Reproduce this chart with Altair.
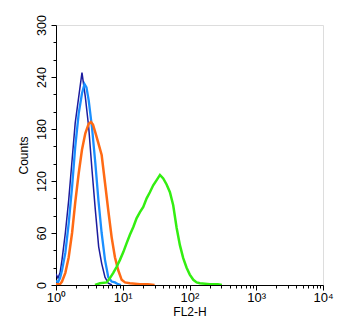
import altair as alt
import pandas as pd

# FL2-H channel values and counts for each histogram
navy_x = [1.00, 1.07, 1.15, 1.23, 1.38, 1.55, 1.74, 1.94, 2.19, 2.45, 2.75, 3.09, 3.46, 3.88, 4.36, 4.83, 5.42, 6.07, 6.89]
navy_y = [13, 8, 14, 29, 60, 98, 144, 187, 217, 245, 217, 182, 133, 87, 44, 25, 9, 2, 0]

blue_x = [1.00, 1.07, 1.15, 1.23, 1.38, 1.55, 1.74, 1.94, 2.19, 2.45, 2.67, 2.86, 3.09, 3.46, 3.88, 4.33, 4.83, 5.42, 6.07, 6.82, 7.64, 8.47, 9.40]
blue_y = [5, 3, 8, 17, 37, 71, 113, 159, 198, 221, 232, 228, 213, 182, 141, 97, 60, 29, 9, 4, 3, 1, 0]

orange_x = [1.00, 1.15, 1.23, 1.38, 1.55, 1.74, 1.94, 2.19, 2.45, 2.75, 3.09, 3.34, 3.58, 3.88, 4.30, 4.83, 5.42, 6.07, 6.82, 7.64, 8.56, 9.63, 10.8, 12.8, 18.1, 23.8, 30.0]
orange_y = [1, 1, 4, 14, 32, 60, 95, 129, 156, 175, 186, 188, 185, 176, 164, 150, 118, 86, 55, 32, 17, 6, 3, 2, 1, 1, 0]

green_x = [3.84, 4.56, 5.74, 6.43, 7.21, 8.11, 9.08, 10.2, 11.4, 12.8, 14.4, 16.1, 18.1, 20.3, 22.8, 25.5, 28.6, 32.2, 36.1, 40.4, 45.4, 50.9, 57.0, 64.1, 71.8, 80.5, 90.5, 101, 114, 128, 143, 202, 266, 305]
green_y = [0, 2, 3, 8, 14, 21, 29, 38, 48, 58, 67, 77, 84, 90, 100, 107, 115, 121, 127, 123, 116, 107, 92, 66, 46, 31, 20, 12, 6, 3, 2, 1, 1, 0]

series = [
    ("navy", navy_x, navy_y, "#1c1c9e", 1.5),
    ("blue", blue_x, blue_y, "#1a8fff", 2.3),
    ("orange", orange_x, orange_y, "#ff6a14", 2.5),
    ("green", green_x, green_y, "#33ee11", 2.5),
]

x_ticks = [m * 10 ** e for e in range(4) for m in range(1, 10)] + [10000]
y_ticks = list(range(0, 301, 20))

rows = []
for name, xs, ys, _, _ in series:
    for a, b in zip(xs, ys):
        rows.append({"series": name, "fl2": a, "count": b})
df = pd.DataFrame(rows)

font = "Liberation Sans"

x_enc = alt.X(
    "fl2:Q",
    scale=alt.Scale(type="log", domain=[1, 10000], nice=False),
    axis=alt.Axis(
        title="FL2-H",
        values=x_ticks,
        grid=False,
        labelExpr="datum.value == 1 ? '10⁰' : datum.value == 10 ? '10¹' : datum.value == 100 ? '10²' : datum.value == 1000 ? '10³' : datum.value == 10000 ? '10⁴' : ''",
        tickSize={"condition": {"test": "datum.value == 1 || datum.value == 10 || datum.value == 100 || datum.value == 1000 || datum.value == 10000", "value": 5}, "value": 3},
        labelFontSize=13,
        labelPadding=1,
        titleFontSize=12,
        titleFontWeight="normal",
        titlePadding=2,
        labelFont=font,
        titleFont=font,
        domainColor="black",
        tickColor="black",
        labelColor="black",
        titleColor="black",
        labelFlush=False,
        labelOverlap=False,
    ),
)
y_enc = alt.Y(
    "count:Q",
    scale=alt.Scale(domain=[0, 300], nice=False),
    axis=alt.Axis(
        title="Counts",
        values=y_ticks,
        grid=False,
        labelExpr="datum.value % 60 == 0 ? datum.label : ''",
        tickSize={"condition": {"test": "datum.value % 60 == 0", "value": 5}, "value": 3},
        labelAngle=270,
        labelAlign="center",
        labelBaseline="bottom",
        labelFontSize=12.5,
        labelPadding=3,
        titleFontSize=12,
        titleFontWeight="normal",
        titlePadding=5,
        labelFont=font,
        titleFont=font,
        domainColor="black",
        tickColor="black",
        labelColor="black",
        titleColor="black",
        labelFlush=False,
        labelOverlap=False,
    ),
)

layers = []
for name, _, _, color, w in series:
    layers.append(
        alt.Chart(df)
        .transform_filter(alt.datum.series == name)
        .mark_line(color=color, strokeWidth=w, clip=True, interpolate="linear")
        .encode(x=x_enc, y=y_enc, order="fl2:Q")
    )

chart = (
    alt.layer(*layers)
    .properties(
        width=267,
        height=260,
        autosize=alt.AutoSizeParams(type="none"),
        padding={"left": 48, "top": 17, "right": 19, "bottom": 41},
    )
    .configure_view(stroke="black", strokeWidth=1)
    .configure(background="white")
)

chart.save("out.html", embed_options={"renderer": "svg", "actions": False})
